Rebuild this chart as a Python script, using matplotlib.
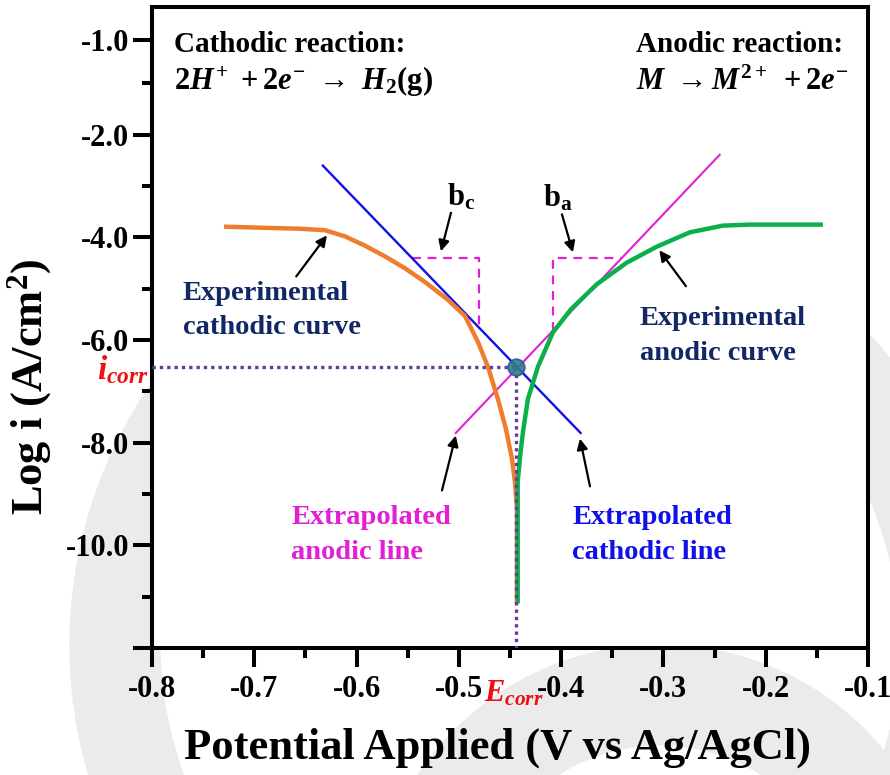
import matplotlib
matplotlib.use("Agg")
import matplotlib.pyplot as plt
import numpy as np
from matplotlib.patches import Wedge

plt.rcParams.update({
    "font.family": "Liberation Serif",
    "font.weight": "bold",
    "mathtext.fontset": "custom",
    "mathtext.rm": "Liberation Serif:bold",
    "mathtext.it": "Liberation Serif:italic:bold",
    "mathtext.bf": "Liberation Serif:bold",
    "axes.unicode_minus": False,
})

# polarisation curves: potential (V) and log current density
cath_E = [-0.7296, -0.6944, -0.6553, -0.6309, -0.6113, -0.5918, -0.5722, -0.5527,
          -0.5331, -0.5116, -0.4940, -0.4813, -0.4716, -0.4618, -0.4540, -0.4481,
          -0.4452, -0.4432, -0.4432]
cath_logi = [-3.79, -3.81, -3.83, -3.86, -3.98, -4.16, -4.37, -4.60,
             -4.87, -5.20, -5.53, -6.04, -6.52, -7.15, -7.73, -8.31,
             -8.76, -9.28, -11.13]
anod_E = [-0.4425, -0.4425, -0.4425, -0.4403, -0.4393, -0.4373, -0.4325, -0.4227,
          -0.4080, -0.3904, -0.3650, -0.3357, -0.3065, -0.2741, -0.2419, -0.2155,
          -0.1441]
anod_logi = [-11.13, -9.48, -8.76, -8.31, -8.12, -7.79, -7.15, -6.52,
             -5.85, -5.40, -4.91, -4.49, -4.18, -3.90, -3.77, -3.75,
             -3.75]

# Tafel extrapolations (end points)
tafel_c_E = [-0.633, -0.381]
tafel_c_logi = [-2.60, -7.81]
tafel_a_E = [-0.503, -0.245]
tafel_a_logi = [-7.81, -2.39]

E_corr = -0.444
i_corr = -6.52
slope_box_logi = -4.41
bc_box_E = -0.480
ba_box_E = -0.408

xticks = [-0.8, -0.7, -0.6, -0.5, -0.4, -0.3, -0.2, -0.1]
xticklabels = ["-0.8", "-0.7", "-0.6", "-0.5", "-0.4", "-0.3", "-0.2", "-0.1"]
yticks = [-0.15, -2, -4, -6, -8, -10, -12]
yticklabels = ["-1.0", "-2.0", "-4.0", "-6.0", "-8.0", "-10.0", ""]

c_orange = "#ee7d2e"
c_green = "#0bb04a"
c_blue = "#1010e8"
c_magenta = "#e020d2"
c_purple = "#6a3a9a"
c_navy = "#112766"
c_red = "#ee1010"

fig = plt.figure(figsize=(8.9, 7.75), dpi=100)

# faint background rings behind the plot box
ring_col = "#ebebeb"
for (cx, cy, r, w) in [(5.3, 1.3, 4.6, 0.9), (6.6, -1.6, 2.9, 1.0)]:
    fig.patches.append(Wedge((cx, cy), r, 0, 360, width=w, color=ring_col,
                             transform=fig.dpi_scale_trans, zorder=0))

ax = fig.add_axes([152 / 890, 1 - 648 / 775, 716 / 890, 641 / 775])
ax.set_zorder(2)
ax.set_facecolor("white")
ax.set_xlim(-0.8, -0.1)
ax.set_ylim(-12, 0.49)

# Tafel lines
ax.plot(tafel_c_E, tafel_c_logi, color=c_blue, lw=1.7, zorder=3)
ax.plot(tafel_a_E, tafel_a_logi, color=c_magenta, lw=1.5, zorder=3)

# slope triangles for b_c and b_a
def line_E(E_pts, L_pts, L):
    pairs = sorted(zip(L_pts, E_pts))
    return np.interp(L, [p[0] for p in pairs], [p[1] for p in pairs])

def line_L(E_pts, L_pts, E):
    return np.interp(E, E_pts, L_pts)

Ec0 = line_E(tafel_c_E, tafel_c_logi, slope_box_logi)
Lc1 = line_L(tafel_c_E, tafel_c_logi, bc_box_E)
ax.plot([Ec0, bc_box_E, bc_box_E], [slope_box_logi, slope_box_logi, Lc1],
        color=c_magenta, lw=1.6, ls=(0, (4, 3)), zorder=2)
Ea1 = line_E(tafel_a_E, tafel_a_logi, slope_box_logi)
La0 = line_L(tafel_a_E, tafel_a_logi, ba_box_E)
ax.plot([ba_box_E, ba_box_E, Ea1], [La0, slope_box_logi, slope_box_logi],
        color=c_magenta, lw=1.6, ls=(0, (4, 3)), zorder=2)

# experimental branches
ax.plot(cath_E, cath_logi, color=c_orange, lw=3.2, zorder=4,
        solid_capstyle="butt", solid_joinstyle="round")
ax.plot(anod_E, anod_logi, color=c_green, lw=3.2, zorder=4,
        solid_capstyle="butt", solid_joinstyle="round")

# corrosion point guides
ax.plot([-0.8, E_corr], [i_corr, i_corr], color=c_purple, lw=2.4, ls=(0, (1, 1.2)), zorder=5)
ax.plot([E_corr, E_corr], [i_corr, -12], color=c_purple, lw=2.4, ls=(0, (1, 1.2)), zorder=5)
ax.plot([E_corr], [i_corr], "o", ms=12, mfc="#2b7c84", mec="#2d55a0", mew=1.2,
        alpha=0.9, zorder=6)

# reaction equations
ax.text(-0.7785, -0.25, "Cathodic reaction:", fontsize=21, va="center", ha="left")
ax.text(-0.7785, -0.97, r"$2H^{+}\ +2e^{-}\ \rightarrow\ H_{2}$(g)", fontsize=22,
        va="center", ha="left")
ax.text(-0.327, -0.25, "Anodic reaction:", fontsize=21, va="center", ha="left")
ax.text(-0.327, -0.97, r"$M\ \rightarrow M^{2+}\ +2e^{-}$", fontsize=22,
        va="center", ha="left")

# curve labels with arrows
arrow = dict(arrowstyle="-|>", color="black", lw=1.6, mutation_scale=16,
             shrinkA=0, shrinkB=0)
lab = dict(fontsize=20.5, va="center", ha="left", linespacing=1.5)
ax.text(-0.7697, -5.42, "Experimental\ncathodic curve", color=c_navy, **lab)
ax.annotate("", xy=(-0.629, -3.96), xytext=(-0.659, -4.76), arrowprops=arrow)
ax.text(-0.323, -5.92, "Experimental\nanodic curve", color=c_navy, **lab)
ax.annotate("", xy=(-0.304, -4.25), xytext=(-0.278, -4.95), arrowprops=arrow)
ax.text(-0.664, -9.80, "Extrapolated\nanodic line", color=c_magenta, **lab)
ax.annotate("", xy=(-0.503, -7.86), xytext=(-0.5165, -8.93), arrowprops=arrow)
ax.text(-0.389, -9.80, "Extrapolated\ncathodic line", color=c_blue, **lab)
ax.annotate("", xy=(-0.3816, -7.92), xytext=(-0.3718, -8.85), arrowprops=arrow)

ax.text(-0.498, -3.22, r"$\mathrm{b_{c}}$", fontsize=22, ha="center", va="center")
ax.annotate("", xy=(-0.5175, -4.27), xytext=(-0.5077, -3.52), arrowprops=arrow)
ax.text(-0.403, -3.24, r"$\mathrm{b_{a}}$", fontsize=22, ha="center", va="center")
ax.annotate("", xy=(-0.3885, -4.29), xytext=(-0.3992, -3.55), arrowprops=arrow)

# axes styling
for s in ax.spines.values():
    s.set_linewidth(2.9)
ax.set_xticks(xticks)
ax.set_xticklabels(xticklabels)
ax.set_xticks(np.array(xticks[:-1]) + 0.05, minor=True)
ax.set_yticks(yticks)
ax.set_yticklabels(yticklabels)
ax.set_yticks(np.arange(-11, 0, 2), minor=True)
ax.tick_params(which="major", length=13.5, width=2.9, labelsize=22, direction="out")
ax.tick_params(which="minor", length=7, width=2.9, direction="out")
ax.tick_params(axis="x", pad=6)
ax.tick_params(axis="y", pad=3)

ax.text(-0.803, i_corr - 0.05, r"$i_{corr}$", color=c_red, fontsize=24, ha="right",
        va="center")
ax.text(E_corr - 0.002, -12.9, r"$E_{corr}$", color=c_red, fontsize=22, ha="center",
        va="center")

fig.text(30 / 890, 1 - 387 / 775, r"Log i (A/cm$^{2}$)", rotation=90, fontsize=32,
         ha="center", va="center")
fig.text(498 / 890, 1 - 748 / 775, "Potential Applied (V vs Ag/AgCl)", fontsize=32,
         ha="center", va="center")

fig.savefig("out.png", dpi=100)
